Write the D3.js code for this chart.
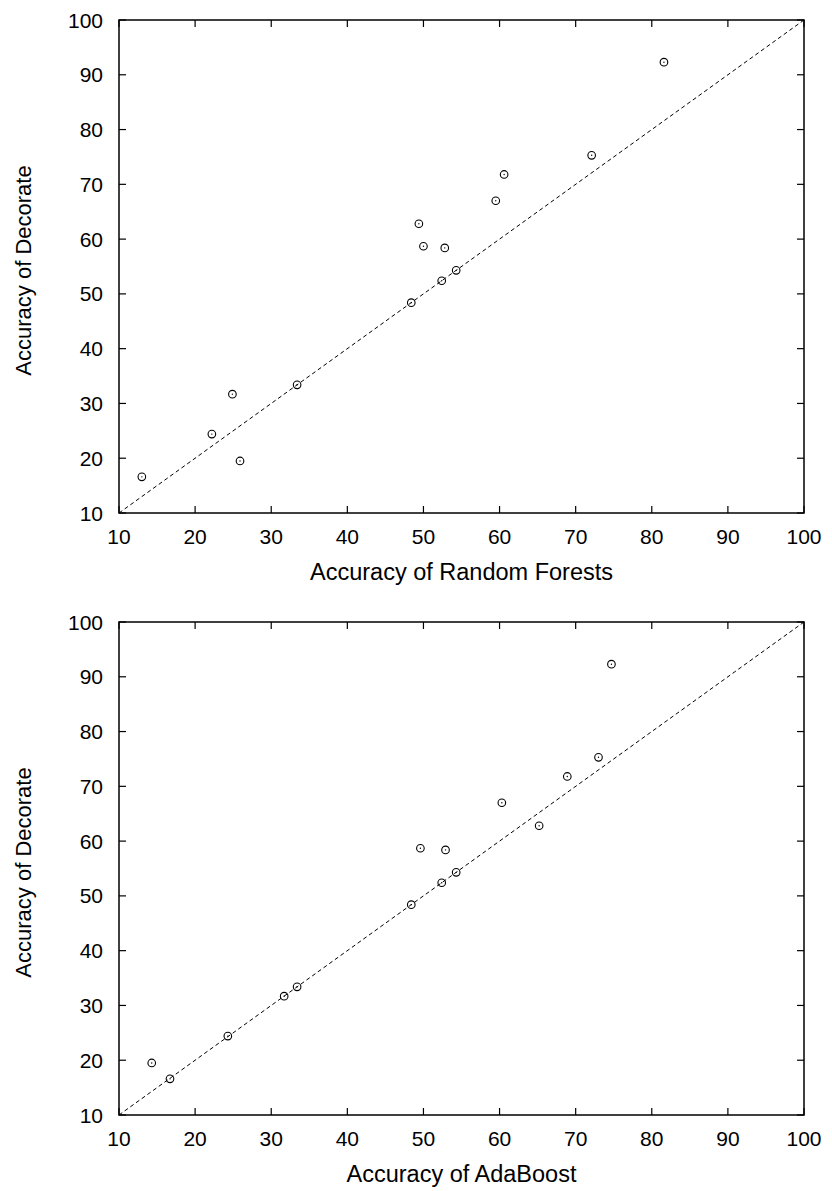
<!DOCTYPE html>
<html>
<head>
<meta charset="utf-8">
<script src="https://cdn.jsdelivr.net/npm/d3@7"></script>
<style>
  html, body { margin: 0; padding: 0; background: #fff; }
  svg { display: block; }
  text { font-family: "Liberation Sans", Arial, Helvetica, sans-serif; fill: #000; }
</style>
</head>
<body>
<script>
// Data
const decorate      = [16.6, 19.5, 24.4, 31.7, 33.4, 48.4, 52.4, 54.3, 58.4, 58.7, 62.8, 67.0, 71.8, 75.3, 92.3];
const randomForests = [13.0, 25.9, 22.2, 24.9, 33.4, 48.4, 52.4, 54.3, 52.8, 50.0, 49.4, 59.5, 60.6, 72.1, 81.6];
const adaBoost      = [16.7, 14.3, 24.3, 31.7, 33.4, 48.4, 52.4, 54.3, 52.9, 49.6, 65.2, 60.3, 68.9, 73.0, 74.7];
const tickValues    = [10, 20, 30, 40, 50, 60, 70, 80, 90, 100];
const yTitle        = "Accuracy of Decorate";
const xTitles       = ["Accuracy of Random Forests", "Accuracy of AdaBoost"];

const W = 832, H = 1191;
const svg = d3.select("body").append("svg").attr("width", W).attr("height", H);

const panels = [
  { xs: randomForests, title: xTitles[0], top: 20, bottom: 513 },
  { xs: adaBoost,      title: xTitles[1], top: 622, bottom: 1115 }
];
const left = 119, right = 804;
const tickLen = 7;

panels.forEach(p => {
  const x = d3.scaleLinear().domain([10, 100]).range([left, right]);
  const y = d3.scaleLinear().domain([10, 100]).range([p.bottom, p.top]);
  const g = svg.append("g");

  // diagonal reference line
  g.append("line")
    .attr("x1", x(10)).attr("y1", y(10)).attr("x2", x(100)).attr("y2", y(100))
    .attr("stroke", "#000").attr("stroke-width", 1).attr("stroke-dasharray", "4,3");

  // ticks on all four sides (inward)
  const tk = g.append("g").attr("stroke", "#000").attr("stroke-width", 1.2);
  tickValues.forEach(v => {
    tk.append("line").attr("x1", x(v)).attr("x2", x(v)).attr("y1", p.bottom).attr("y2", p.bottom - tickLen);
    tk.append("line").attr("x1", x(v)).attr("x2", x(v)).attr("y1", p.top).attr("y2", p.top + tickLen);
    tk.append("line").attr("y1", y(v)).attr("y2", y(v)).attr("x1", left).attr("x2", left + tickLen);
    tk.append("line").attr("y1", y(v)).attr("y2", y(v)).attr("x1", right).attr("x2", right - tickLen);
  });

  // frame
  g.append("rect")
    .attr("x", left).attr("y", p.top).attr("width", right - left).attr("height", p.bottom - p.top)
    .attr("fill", "none").attr("stroke", "#000").attr("stroke-width", 1.5);

  // tick labels
  g.selectAll(".xl").data(tickValues).enter().append("text")
    .attr("x", d => x(d)).attr("y", p.bottom + 23)
    .attr("text-anchor", "middle").attr("dominant-baseline", "central")
    .attr("font-size", 21).text(d => d);
  g.selectAll(".yl").data(tickValues).enter().append("text")
    .attr("x", left - 16).attr("y", d => y(d))
    .attr("text-anchor", "end").attr("dominant-baseline", "central")
    .attr("font-size", 21).text(d => d);

  // axis titles
  g.append("text")
    .attr("x", (left + right) / 2).attr("y", p.bottom + 59)
    .attr("text-anchor", "middle").attr("dominant-baseline", "central")
    .attr("font-size", 23.5).text(p.title);
  g.append("text")
    .attr("transform", `translate(23, ${(p.top + p.bottom) / 2 + 4}) rotate(-90)`)
    .attr("text-anchor", "middle").attr("dominant-baseline", "central")
    .attr("font-size", 22).text(yTitle);

  // points
  const pts = p.xs.map((v, i) => [v, decorate[i]]);
  const pg = g.selectAll(".pt").data(pts).enter().append("g")
    .attr("transform", d => `translate(${x(d[0])},${y(d[1])})`);
  pg.append("circle").attr("r", 3.8).attr("fill", "none").attr("stroke", "#000").attr("stroke-width", 1.1);
  pg.append("circle").attr("r", 0.7).attr("fill", "#000");
});
</script>
</body>
</html>
